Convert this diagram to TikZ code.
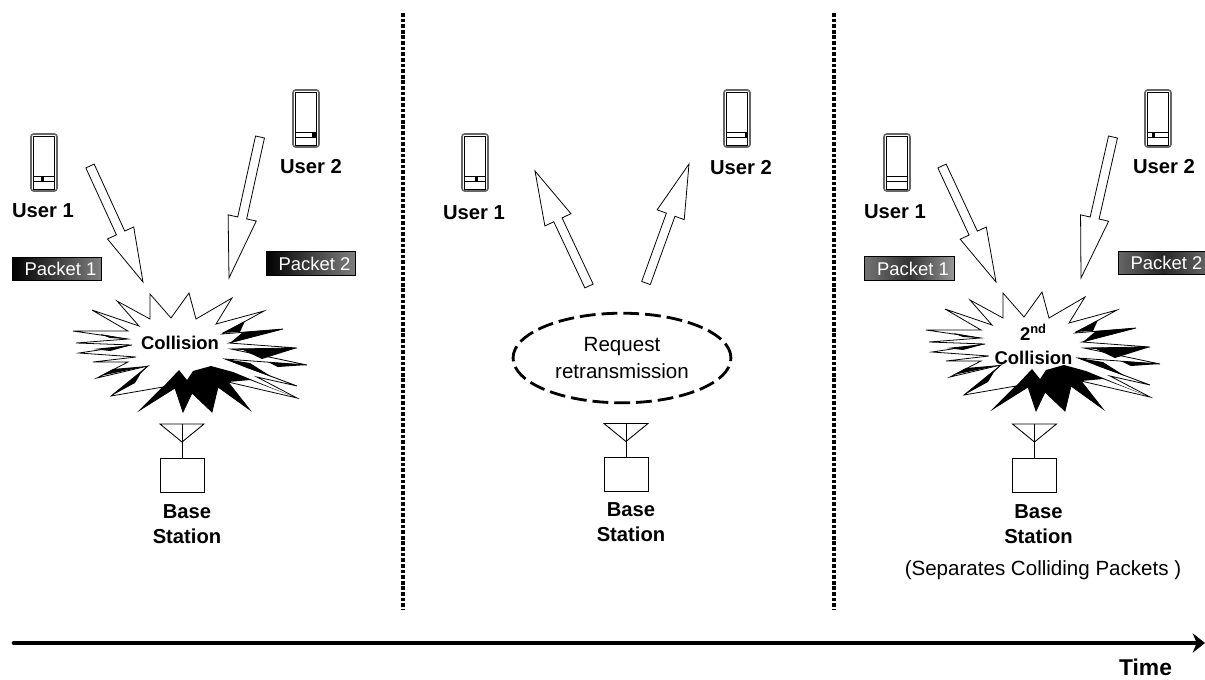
\documentclass[tikz,border=0pt]{standalone}
\usepackage{fontspec}
\setmainfont{Liberation Sans}
\usetikzlibrary{calc}
\usetikzlibrary{arrows.meta}
\usetikzlibrary{shapes.geometric}
\tikzset{%
  timeedge/.style={-{Stealth[length=7pt,width=11pt]}, line width=2.6pt, line cap=round},
  timelabelstyle/.style={font=\fontsize{13}{16}\selectfont\bfseries, inner sep=0pt},
  divider/.style={line width=1.9pt, dash pattern=on 2.1pt off 1.1pt},
  arrowbody/.style={draw=black, fill=white, line width=0.45pt},
  boldlabel/.style={font=\fontsize{11.5}{13.8}\selectfont\bfseries, inner sep=0pt, align=center},
  plainlabel/.style={font=\fontsize{11.7}{14.2}\selectfont, inner sep=0pt, align=center},
  burstlabel/.style={font=\fontsize{10.5}{12.6}\selectfont\bfseries, inner sep=0pt, align=center},
  packetnode/.style={draw=black, line width=0.5pt, text=white, minimum width=51pt, minimum height=13.5pt,
    inner sep=0pt, font=\fontsize{10.5}{12.6}\selectfont},
  requestnode/.style={ellipse, draw=black, line width=1.6pt, dash pattern=on 9pt off 3.4pt,
    minimum width=124pt, minimum height=51pt, inner sep=0pt, align=center,
    font=\fontsize{11.7}{14.2}\selectfont},
  phonedot/.style={fill=black, inner sep=0pt, minimum width=1.8pt, minimum height=2.8pt},
  phone/.pic={
    \draw[line width=0.9pt, black!60, rounded corners=1.5pt] (0,0) rectangle (26,57);
    \draw[line width=0.45pt] (2.3,2.3) rectangle (23.7,42);
    \draw[line width=0.45pt] (2.3,42) rectangle (23.7,47);
    \draw[line width=0.45pt] (2.3,47) rectangle (23.7,55);
  },
  basestation/.pic={
    \draw[line width=0.5pt] (0,0) -- (44,0) -- (22,18) -- cycle;
    \draw[line width=0.5pt] (22,0) -- (22,34);
    \draw[line width=0.5pt] (0,34) rectangle (44,68);
  },
  burst/.pic={
    % white star first, then the black parts on top
    \draw[fill=white, line width=0.45pt] (150,294) -- (171,318) -- (189,293) -- (196,319) -- (232,298)
      -- (216,324) -- (264,311) -- (222,334) -- (283,329) -- (229,343) -- (297,348) -- (231,349)
      -- (307,365) -- (225,359) -- (297,386) -- (257,377) -- (297,398) -- (228,382) -- (250,410)
      -- (218,387) -- (212,412) -- (192,393) -- (183,412) -- (175,388) -- (140,410) -- (163,387)
      -- (111,396) -- (148,366) -- (97,378) -- (128,362) -- (93,362) -- (136,357) -- (79,353)
      -- (132,345) -- (76,343) -- (128,339) -- (73,331) -- (128,331) -- (92,310) -- (139,326)
      -- (117,301) -- (150,319) -- cycle;
    \fill (222,333) -- (245,321) -- (240,332) -- cycle;
    \fill (230,343) -- (283,329) -- (243,332) -- cycle;
    \fill (232,349) -- (297,348) -- (262,359) -- (243,350) -- cycle;
    \fill (268,362) -- (307,365) -- (278,367) -- cycle;
    \fill (225,359) -- (250,363) -- (272,377) -- (297,386) -- (247,368) -- cycle;
    \fill (211,366) -- (233,372) -- (272,388) -- (297,398) -- (250,380) -- (228,382) -- (250,410)
      -- (218,387) -- (212,412) -- (192,393) -- (183,412) -- (175,388) -- (140,410) -- (163,387)
      -- (179,370) -- (187,380) -- (193,371) -- cycle;
    \fill (148,366) -- (111,396) -- (135,383) -- (141,373) -- cycle;
    \fill (148,366) -- (113,369) -- (100,376) -- cycle;
    \fill (128,339) -- (100,334) -- (110,338) -- cycle;
    \fill (132,345) -- (94,349) -- (110,351) -- cycle;
  }
}
% block arrow between two named coordinates: {tail}{tip}{head length}
\newcommand{\blockarrow}[3]{
  \coordinate (hb) at ($(#2)!#3!(#1)$);
  \draw[arrowbody] ($(#1)!2.6pt!90:(#2)$) -- ($(hb)!2.6pt!-90:(#1)$) -- ($(hb)!8.2pt!-90:(#1)$)
    -- (#2) -- ($(hb)!8.2pt!90:(#1)$) -- ($(hb)!2.6pt!90:(#1)$) -- ($(#1)!2.6pt!-90:(#2)$) -- cycle;
}

\begin{document}
\begin{tikzpicture}[x=0.02cm, y=-0.02cm]
  \useasboundingbox (0,0) rectangle (1205,680);

  \coordinate (divonetop) at (403,13);
  \coordinate (divonebot) at (403,610);
  \coordinate (divtwotop) at (834,13);
  \coordinate (divtwobot) at (834,610);
  \draw[divider] (divonetop) -- (divonebot);
  \draw[divider] (divtwotop) -- (divtwobot);

  % first panel
  \pic (phoneoneA) at (31,134) {phone};
  \pic (phonetwoA) at (293,90) {phone};
  \node[phonedot] (dotoneA) at (42.7,178.5) {};
  \node[phonedot] (dottwoA) at (314,134.5) {};
  \node[boldlabel] (useroneA) at (43,211) {User 1};
  \node[boldlabel] (usertwoA) at (311,167) {User 2};
  \node[packetnode, left color=black, right color=black!50] (packetoneA) at (57,269) {\hspace{4pt}Packet 1};
  \node[packetnode, left color=black, right color=black!50] (packettwoA) at (311,263.5) {\hspace{4pt}Packet 2};
  \coordinate (tailoneA) at (90,166);
  \coordinate (tiponeA) at (143,282);
  \coordinate (tailtwoA) at (260,137);
  \coordinate (tiptwoA) at (229,278);
  \blockarrow{tailoneA}{tiponeA}{30.7pt}
  \blockarrow{tailtwoA}{tiptwoA}{35pt}
  \pic (burstA) at (0,0) {burst};
  \node[burstlabel] (collisionA) at (180,343) {Collision};
  \pic (baseA) at (160,424) {basestation};
  \node[boldlabel] (stationA) at (187,524) {Base\\[0.5pt]Station};

  % second panel
  \pic (phoneoneB) at (462,134) {phone};
  \pic (phonetwoB) at (724,90) {phone};
  \node[phonedot] (dotoneB) at (476.7,178.5) {};
  \node[phonedot] (dottwoB) at (746.7,134.5) {};
  \node[boldlabel] (useroneB) at (474,213) {User 1};
  \node[boldlabel] (usertwoB) at (741,168) {User 2};
  \coordinate (tailoneB) at (589,286);
  \coordinate (tiponeB) at (535,171);
  \coordinate (tailtwoB) at (646,283);
  \coordinate (tiptwoB) at (689,164);
  \blockarrow{tailoneB}{tiponeB}{30.7pt}
  \blockarrow{tailtwoB}{tiptwoB}{30.7pt}
  \node[requestnode] (request) at (622,358) {Request\\[1pt]retransmission};
  \pic (baseB) at (604,423.5) {basestation};
  \node[boldlabel] (stationB) at (631,522) {Base\\[0.5pt]Station};

  % third panel
  \pic (phoneoneC) at (884,134) {phone};
  \pic (phonetwoC) at (1145,90) {phone};
  \node[phonedot] (dottwoC) at (1153.3,134.5) {};
  \node[boldlabel] (useroneC) at (895,212) {User 1};
  \node[boldlabel] (usertwoC) at (1164,167) {User 2};
  \node[packetnode, left color=black!55, right color=black!40, middle color=black!80] (packetoneC) at (909.5,268.5) {\hspace{4pt}Packet 1};
  \node[packetnode, left color=black!60, right color=black!60, middle color=black!85] (packettwoC) at (1163,263) {\hspace{4pt}Packet 2};
  \coordinate (tailoneC) at (942,166);
  \coordinate (tiponeC) at (996,282);
  \coordinate (tailtwoC) at (1113,137);
  \coordinate (tiptwoC) at (1081,278);
  \blockarrow{tailoneC}{tiponeC}{30.7pt}
  \blockarrow{tailtwoC}{tiptwoC}{35pt}
  \pic (burstC) at (853,-1) {burst};
  \node[burstlabel] (collisionC) at (1033.5,344) {2\textsuperscript{nd}\\[1pt]Collision};
  \pic (baseC) at (1012.5,424) {basestation};
  \node[boldlabel] (stationC) at (1038.5,524) {Base\\[0.5pt]Station};
  \node[plainlabel] (separates) at (1043,570) {(Separates Colliding Packets )};

  % time axis
  \coordinate (timestart) at (14,643);
  \coordinate (timeend) at (1205,643);
  \draw[timeedge] (timestart) -- (timeend);
  \node[timelabelstyle] (timelabel) at (1145.5,667) {Time};
\end{tikzpicture}
\end{document}
